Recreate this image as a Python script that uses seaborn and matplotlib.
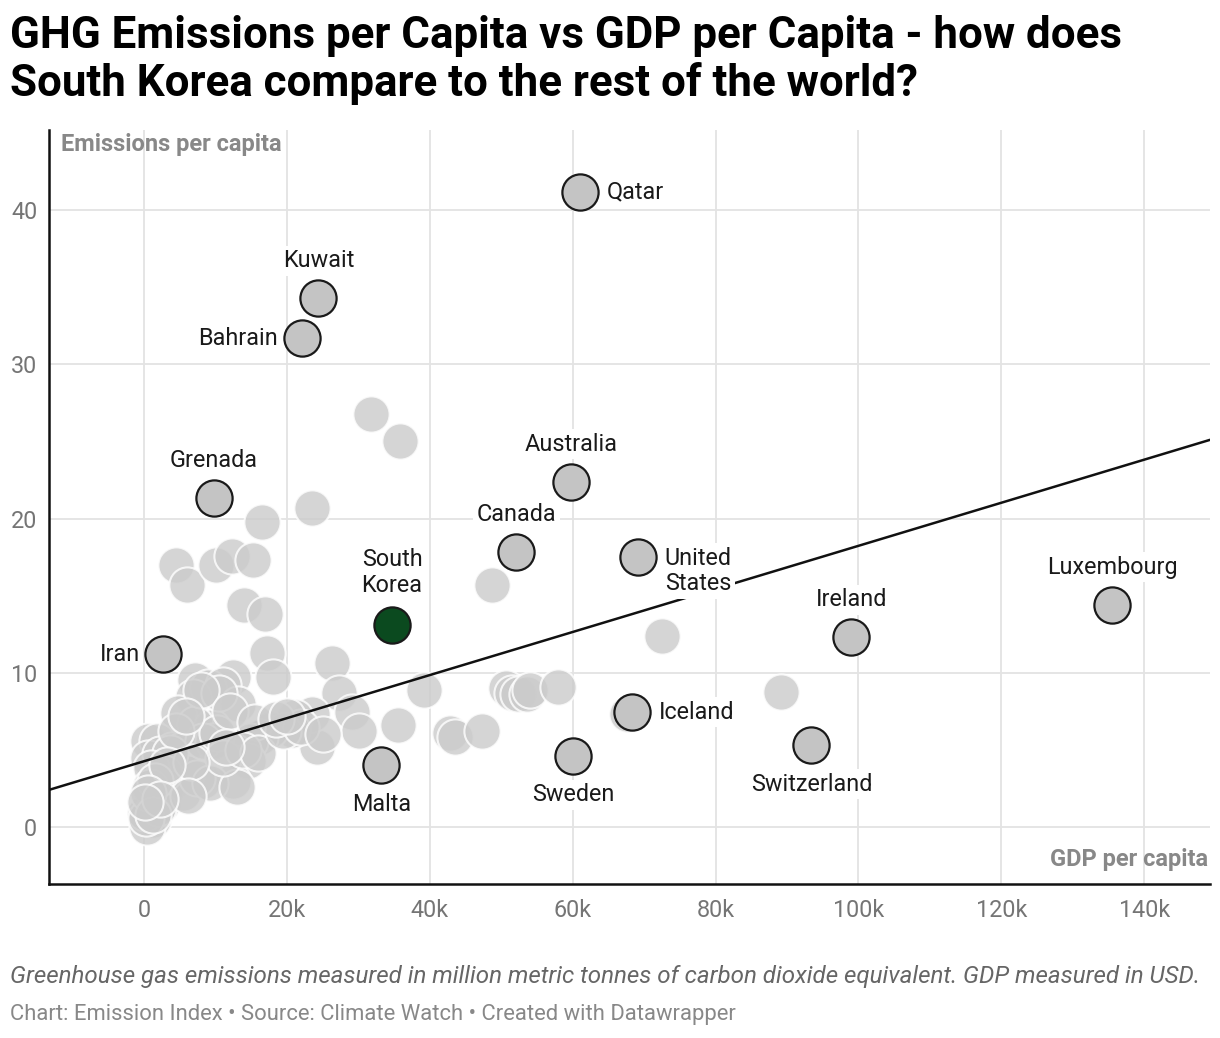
import numpy as np
import pandas as pd
import seaborn as sns
import matplotlib.pyplot as plt
from matplotlib.ticker import FuncFormatter

# ---- data (GDP per capita in thousand USD, emissions per capita) ----
label_names = ['Qatar', 'Kuwait', 'Bahrain', 'Grenada', 'Australia', 'Canada', 'United\nStates',
               'South\nKorea', 'Iran', 'Luxembourg', 'Ireland', 'Iceland', 'Malta', 'Sweden', 'Switzerland']
label_gdp = [61.0, 24.4, 22.1, 9.8, 59.8, 52.1, 69.2, 34.7, 2.7, 135.5, 99.0, 68.3, 33.2, 60.1, 93.4]
label_emis = [41.2, 34.3, 31.7, 21.3, 22.4, 17.8, 17.5, 13.1, 11.2, 14.4, 12.3, 7.45, 4.0, 4.6, 5.3]

bg_gdp = [31.8, 35.8, 23.5, 16.5, 4.5, 6.0, 10.1, 12.3, 15.3, 14.0, 16.9, 17.2, 18.1, 26.3,
          48.7, 72.5, 89.2, 39.2, 27.3, 29.1, 30.1, 35.6, 24.2, 23.5, 21.1, 20.7, 17.6, 16.2,
          42.8, 43.5, 47.3, 50.7, 51.5, 52.3, 53.6, 54.0, 58.0, 67.6,
          7.1, 12.5, 9.0, 11.1, 6.9, 13.2, 4.8, 9.5, 7.1, 0.6, 1.8, 3.9, 0.6, 2.2, 5.3, 9.7,
          14.8, 14.6, 12.5, 4.1, 8.3, 6.0, 1.8, 0.8, 1.3, 0.4, 0.1, 2.5, 3.0, 5.5, 7.4, 9.2,
          13.0, 8.3, 10.2, 3.6, 1.0, 2.8, 10.5, 8.0, 12.0, 15.5, 11.0, 6.5, 4.5, 5.8, 13.8,
          16.0, 19.5, 22.0, 18.5, 0.9, 2.0, 1.5, 0.3, 20.0, 25.0, 11.5, 3.2, 6.2,
          0.5, 1.2, 2.3, 0.2]
bg_emis = [26.8, 25.0, 20.7, 19.8, 17.0, 15.7, 17.0, 17.6, 17.3, 14.4, 13.8, 11.3, 9.7, 10.6,
           15.7, 12.4, 8.75, 8.9, 8.7, 7.45, 6.2, 6.6, 5.2, 7.3, 7.1, 6.3, 6.3, 5.8,
           6.1, 5.8, 6.2, 9.0, 8.7, 8.6, 8.6, 8.9, 9.1, 7.3,
           9.5, 9.7, 9.1, 9.2, 8.4, 8.0, 7.4, 6.5, 6.7, 5.6, 5.6, 5.0, 4.5, 4.7, 5.0, 5.6,
           5.6, 4.3, 3.0, 3.0, 3.0, 3.5, 1.9, 1.3, 0.45, 0.0, 0.9, 1.5, 2.3, 2.2, 3.2, 2.85,
           2.6, 5.6, 6.1, 4.8, 3.8, 3.5, 8.7, 8.9, 7.5, 6.8, 4.5, 4.2, 6.2, 7.2, 5.0,
           4.8, 6.2, 6.5, 7.0, 2.6, 1.2, 3.0, 0.6, 7.2, 6.0, 5.2, 4.0, 2.0,
           2.2, 0.8, 1.8, 1.6]

# fitted trend line as drawn in the reference
trend_intercept = 4.26
trend_slope = 0.1397   # per thousand USD

x_ticks = [0, 20, 40, 60, 80, 100, 120, 140]
y_ticks = [0, 10, 20, 30, 40]

# label placement: (dx, dy) in points, ha, va
label_pos = {
    'Qatar': (19, 0, 'left', 'center'),
    'Kuwait': (0, 27, 'center', 'center'),
    'Bahrain': (-17, 0, 'right', 'center'),
    'Grenada': (0, 27, 'center', 'center'),
    'Australia': (0, 27, 'center', 'center'),
    'Canada': (0, 27, 'center', 'center'),
    'United\nStates': (19, 7.5, 'left', 'top'),
    'South\nKorea': (0, 20, 'center', 'bottom'),
    'Iran': (-17, 0, 'right', 'center'),
    'Luxembourg': (0, 27, 'center', 'center'),
    'Ireland': (0, 27, 'center', 'center'),
    'Iceland': (19, 0, 'left', 'center'),
    'Malta': (0, -28, 'center', 'center'),
    'Sweden': (0, -28, 'center', 'center'),
    'Switzerland': (0, -28, 'center', 'center'),
}

bg = pd.DataFrame({'gdp': bg_gdp, 'emis': bg_emis})
lab = pd.DataFrame({'name': label_names, 'gdp': label_gdp, 'emis': label_emis})

sns.set_theme(style='white')
plt.rcParams['font.family'] = ['Roboto', 'DejaVu Sans']

fig = plt.figure(figsize=(12.2, 10.38), dpi=100)
ax = fig.add_axes([0.0402, 0.1484, 0.9516, 0.7264])

marker_s = 680
sns.scatterplot(data=bg, x='gdp', y='emis', s=marker_s, color='#cbcbcb', alpha=0.8,
                edgecolor='white', linewidth=1.5, ax=ax, zorder=2)

ax.axline((0, trend_intercept), slope=trend_slope, color='#111111', lw=1.8, zorder=3)

others = lab[lab['name'] != 'South\nKorea']
korea = lab[lab['name'] == 'South\nKorea']
sns.scatterplot(data=others, x='gdp', y='emis', s=marker_s, color='#c4c4c4',
                edgecolor='#1a1a1a', linewidth=1.6, ax=ax, zorder=4)
sns.scatterplot(data=korea, x='gdp', y='emis', s=marker_s, color='#0b4a1f',
                edgecolor='#1a1a1a', linewidth=1.6, ax=ax, zorder=4)

for name, gx, ey in zip(label_names, label_gdp, label_emis):
    dx, dy, ha, va = label_pos[name]
    ax.annotate(name, (gx, ey), xytext=(dx, dy), textcoords='offset points',
                ha=ha, va=va, multialignment='center' if ha == 'center' else 'left',
                fontsize=16.8, color='#1a1a1a', linespacing=1.15, zorder=6,
                bbox=dict(boxstyle='square,pad=0.15', fc='white', ec='none'))

ax.set_xlim(-13.3, 149.2)
ax.set_ylim(-3.7, 45.2)
ax.set_xticks(x_ticks)
ax.set_yticks(y_ticks)
ax.xaxis.set_major_formatter(FuncFormatter(lambda v, p: '0' if v == 0 else f'{int(v)}k'))
ax.tick_params(axis='both', length=0, labelsize=16.8, labelcolor='#757575')
ax.tick_params(axis='x', pad=11)
ax.tick_params(axis='y', pad=8.5)
ax.grid(True, color='#e3e3e3', lw=1.3, zorder=0)
ax.set_axisbelow(True)
for side in ['top', 'right']:
    ax.spines[side].set_visible(False)
for side in ['left', 'bottom']:
    ax.spines[side].set_color('#111111')
    ax.spines[side].set_linewidth(1.8)
ax.set_xlabel('')
ax.set_ylabel('')

ax.text(0.01, 0.981, 'Emissions per capita', transform=ax.transAxes, ha='left', va='center',
        fontsize=17, fontweight='bold', color='#888888')
ax.text(0.998, 0.032, 'GDP per capita', transform=ax.transAxes, ha='right', va='center',
        fontsize=17, fontweight='bold', color='#888888')

fig.text(0.008, 0.986, 'GHG Emissions per Capita vs GDP per Capita - how does\n'
         'South Korea compare to the rest of the world?', ha='left', va='top',
         fontsize=31.6, fontweight='bold', color='black', linespacing=1.15)
fig.text(0.008, 0.0588, 'Greenhouse gas emissions measured in million metric tonnes of carbon dioxide '
         'equivalent. GDP measured in USD.', ha='left', va='center', fontsize=17.4,
         style='italic', color='#666666')
fig.text(0.008, 0.0231, 'Chart: Emission Index \u2022 Source: Climate Watch \u2022 Created with Datawrapper',
         ha='left', va='center', fontsize=15.85, color='#888888')

fig.savefig('out.png', dpi=100)
